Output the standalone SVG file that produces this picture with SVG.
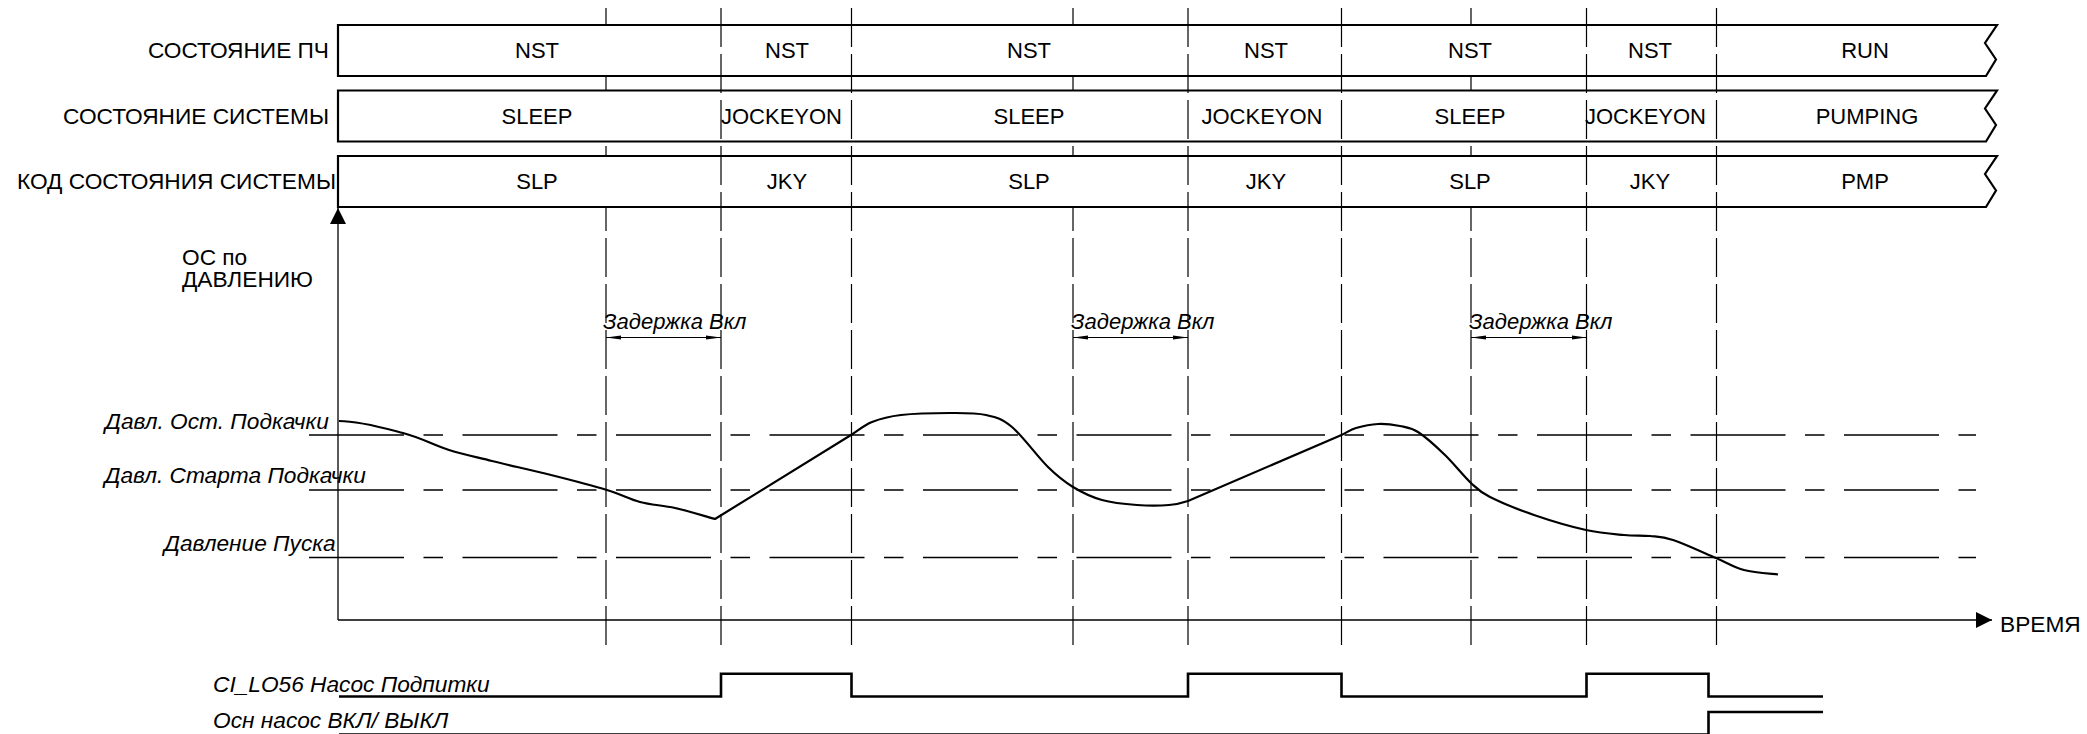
<svg xmlns="http://www.w3.org/2000/svg" width="2087" height="734" viewBox="0 0 2087 734">
<style>
.t{font-family:"Liberation Sans",Arial,sans-serif;font-size:22px;fill:#000}
.l{font-size:22.7px}
.c{text-anchor:middle}
.e{text-anchor:end}
.i{font-family:"Liberation Sans",Arial,sans-serif;font-size:22.7px;font-style:italic;fill:#000}
.d{font-size:22px}
.row{fill:#fff;stroke:#000;stroke-width:2.2}
.vl{stroke:#000;stroke-width:1.2;stroke-dasharray:39 7;fill:none}
.hl{stroke:#000;stroke-width:1.3;stroke-dasharray:95 19.5 19.5 19.5;fill:none}
.ax{stroke:#000;stroke-width:1.3;fill:none}
.crv{stroke:#000;stroke-width:2.2;fill:none;stroke-linejoin:round}
.sig{stroke:#000;stroke-width:2.6;fill:none}
.dim{stroke:#000;stroke-width:1.1;fill:none}
</style>
<defs>
<marker id="arr" viewBox="0 0 16 16" refX="16" refY="8" markerWidth="16" markerHeight="16" markerUnits="userSpaceOnUse" orient="auto"><path d="M0,0 L16,8 L0,16 Z" fill="#000"/></marker>
<marker id="dm" viewBox="0 0 15 5" refX="15" refY="2.5" markerWidth="15" markerHeight="5" markerUnits="userSpaceOnUse" orient="auto-start-reverse"><path d="M0,0.5 L15,2.5 L0,4.5 Z" fill="#000"/></marker>
</defs>
<rect width="2087" height="734" fill="#fff"/>

<g id="grid-hidden">
<line class="vl" x1="606" y1="8" x2="606" y2="650"/>
<line class="vl" x1="1073" y1="8" x2="1073" y2="650"/>
<line class="vl" x1="1471" y1="8" x2="1471" y2="650"/>
</g>

<g id="row-pch">
<path class="row" d="M338,25 H1997 L1985,43 L1996,59.5 L1986,76 H338 Z"/>
<text class="t l e" x="329" y="58.2">СОСТОЯНИЕ ПЧ</text>
</g>
<g id="row-sys">
<path class="row" d="M338,90.5 H1997 L1985,108.5 L1996,125 L1986,141.5 H338 Z"/>
<text class="t l e" x="329" y="123.7">СОСТОЯНИЕ СИСТЕМЫ</text>
</g>
<g id="row-code">
<path class="row" d="M338,156 H1997 L1985,174 L1996,190.5 L1986,207 H338 Z"/>
<text class="t l e" x="336" y="189.2">КОД СОСТОЯНИЯ СИСТЕМЫ</text>
</g>

<g id="grid-dividers">
<line class="vl" x1="721" y1="8" x2="721" y2="650"/>
<line class="vl" x1="851.5" y1="8" x2="851.5" y2="650"/>
<line class="vl" x1="1188" y1="8" x2="1188" y2="650"/>
<line class="vl" x1="1341.5" y1="8" x2="1341.5" y2="650"/>
<line class="vl" x1="1586.5" y1="8" x2="1586.5" y2="650"/>
<line class="vl" x1="1716.5" y1="8" x2="1716.5" y2="650"/>
</g>

<g id="cells-pch" class="t c">
<text x="537" y="58.2">NST</text>
<text x="787" y="58.2">NST</text>
<text x="1029" y="58.2">NST</text>
<text x="1266" y="58.2">NST</text>
<text x="1470" y="58.2">NST</text>
<text x="1650" y="58.2">NST</text>
<text x="1865" y="58.2">RUN</text>
</g>
<g id="cells-sys" class="t c">
<text x="537" y="123.7">SLEEP</text>
<text x="781.5" y="123.7">JOCKEYON</text>
<text x="1029" y="123.7">SLEEP</text>
<text x="1262" y="123.7">JOCKEYON</text>
<text x="1470" y="123.7">SLEEP</text>
<text x="1645.5" y="123.7">JOCKEYON</text>
<text x="1867" y="123.7">PUMPING</text>
</g>
<g id="cells-code" class="t c">
<text x="537" y="189.2">SLP</text>
<text x="787" y="189.2">JKY</text>
<text x="1029" y="189.2">SLP</text>
<text x="1266" y="189.2">JKY</text>
<text x="1470" y="189.2">SLP</text>
<text x="1650" y="189.2">JKY</text>
<text x="1865" y="189.2">PMP</text>
</g>

<g id="levels">
<line class="hl" x1="309" y1="435" x2="1976" y2="435"/>
<line class="hl" x1="309" y1="490" x2="1976" y2="490"/>
<line class="hl" x1="309" y1="557.5" x2="1976" y2="557.5"/>
<text class="i" x="105" y="429">Давл. Ост. Подкачки</text>
<text class="i" x="104.5" y="483">Давл. Старта Подкачки</text>
<text class="i" x="164" y="550.5">Давление Пуска</text>
</g>

<g id="axes">
<line class="ax" x1="338" y1="620" x2="338" y2="208" marker-end="url(#arr)"/>
<line class="ax" x1="338" y1="620" x2="1992" y2="620" marker-end="url(#arr)"/>
<text class="t l" x="182" y="265">ОС по</text>
<text class="t l" x="182" y="287">ДАВЛЕНИЮ</text>
<text class="t l" x="2000" y="631.5">ВРЕМЯ</text>
</g>

<g id="connectors">
<line class="dim" x1="606" y1="337.5" x2="721" y2="337.5" marker-start="url(#dm)" marker-end="url(#dm)"/>
<line class="dim" x1="1073" y1="337.5" x2="1188" y2="337.5" marker-start="url(#dm)" marker-end="url(#dm)"/>
<line class="dim" x1="1471" y1="337.5" x2="1586.5" y2="337.5" marker-start="url(#dm)" marker-end="url(#dm)"/>
</g>
<g id="delay-labels" class="i d">
<text x="603" y="329">Задержка Вкл</text>
<text x="1071" y="329">Задержка Вкл</text>
<text x="1469" y="329">Задержка Вкл</text>
</g>

<g id="pressure-curve">
<path class="crv" d="M339,421 C360,421 384.7,428.2 403,433 C421.3,437.8 434.2,445.3 449,450 C463.8,454.7 475,456.8 492,461 C509,465.2 531.8,470.2 551,475 C570.2,479.8 592.2,485.5 607,490 C621.8,494.5 628.7,499 640,502 C651.3,505 662.5,505.2 675,508 C687.5,510.8 708.3,517.2 715,519 L851,435 C858,430.7 863.7,425.3 872,422 C880.3,418.7 888,416.5 901,415 C914,413.5 935.8,413 950,413 C964.2,413 975.7,412.7 986,415 C996.3,417.3 1001.7,418.3 1012,427 C1022.3,435.7 1037.8,457 1048,467 C1058.2,477 1064,481.5 1073,487 C1082,492.5 1091.3,497 1102,500 C1112.7,503 1125.8,504.2 1137,505 C1148.2,505.8 1160.5,505.7 1169,505 C1177.5,504.3 1181.2,503.3 1188,501 L1341.5,435 C1347.5,432.3 1349.9,429.8 1356,428 C1362.1,426.2 1370.7,424.3 1378,424 C1385.3,423.7 1393.3,424.7 1400,426 C1406.7,427.3 1410.5,427.2 1418,432 C1425.5,436.8 1436.2,446.5 1445,455 C1453.8,463.5 1463.5,476 1471,483 C1478.5,490 1479.5,491.7 1490,497 C1500.5,502.3 1518,509.5 1534,515 C1550,520.5 1571,526.7 1586,530 C1601,533.3 1613.3,534 1624,535 C1634.7,536 1641.8,535.2 1650,536 C1658.2,536.8 1662,536.3 1673,540 C1684,543.7 1704.2,553 1716,558 C1727.8,563 1733.7,567.3 1744,570 C1754.3,572.75 1772.3,573.8 1778,574.5"/>
</g>

<g id="signal-jockey">
<path class="sig" d="M339,696.5 H721 V673.7 H851.5 V696.5 H1188 V673.7 H1341.5 V696.5 H1586.5 V673.7 H1708.5 V696.5 H1823"/>
<text class="i" x="213" y="692">CI_LO56 Насос Подпитки</text>
</g>
<g id="signal-main">
<path class="sig" d="M339,734.6 H1708.5 V712 H1823"/>
<text class="i" x="213" y="728">Осн насос ВКЛ/ ВЫКЛ</text>
</g>
</svg>
